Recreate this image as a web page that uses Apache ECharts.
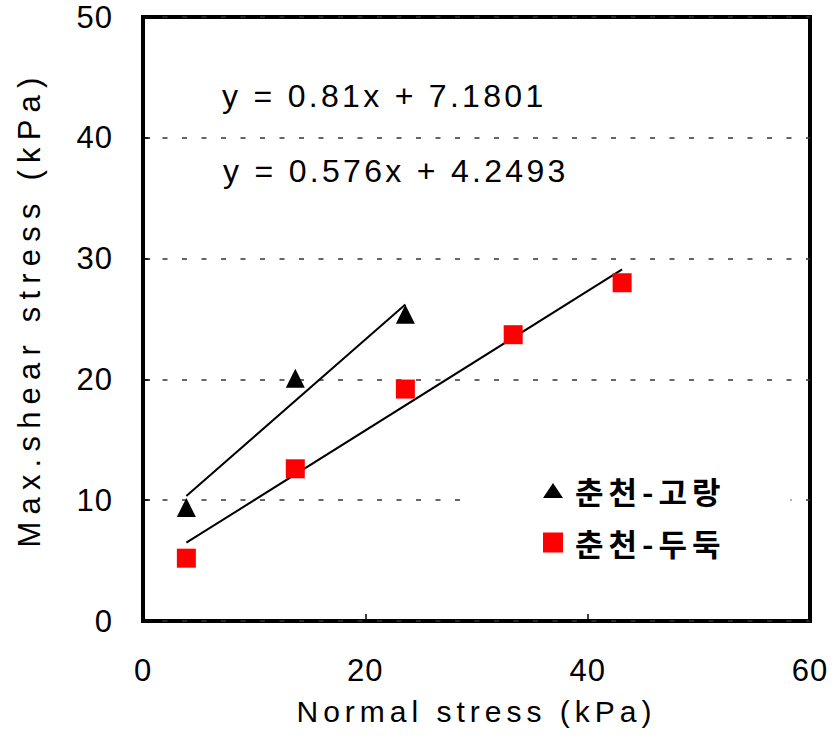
<!DOCTYPE html>
<html><head><meta charset="utf-8">
<script src="https://cdn.jsdelivr.net/npm/echarts@6/dist/echarts.min.js"></script>
<style>html,body{margin:0;padding:0;background:#fff}#chart{width:836px;height:742px}</style>
</head><body><div id="chart"></div>
<script>
// ---- data ----
const seriesNames = ['춘천-고랑', '춘천-두둑'];
const normalStressGorang = [3.9, 13.7, 23.6];
const shearGorang = [9.4, 20.1, 25.4];
const normalStressDuduk = [3.9, 13.7, 23.6, 33.3, 43.1];
const shearDuduk = [5.2, 12.6, 19.2, 23.7, 28.0];
const trendGorangX = [3.9, 23.6];
const trendGorangY = [10.35, 26.2];
const trendDudukX = [3.9, 43.1];
const trendDudukY = [6.48, 29.1];
const equations = ['y = 0.81x + 7.1801', 'y = 0.576x + 4.2493'];
const xTicks = [0, 20, 40, 60];
const yTicks = [0, 10, 20, 30, 40, 50];
const xAxisName = 'Normal stress (kPa)';
const yAxisName = 'Max.shear stress (kPa)';

const pairs = (xs, ys) => xs.map((x, i) => [x, ys[i]]);
const LATIN = 'Liberation Sans, Arial, sans-serif';

const chart = echarts.init(document.getElementById('chart'), null, {renderer: 'svg'});
chart.setOption({
  animation: false,
  backgroundColor: '#fff',
  grid: {left: 143, right: 26, top: 17, bottom: 121, show: true, borderColor: '#000', borderWidth: 4, backgroundColor: 'transparent'},
  xAxis: {
    type: 'value', min: xTicks[0], max: xTicks[xTicks.length - 1], interval: xTicks[1] - xTicks[0],
    name: xAxisName, nameLocation: 'middle', nameGap: 75,
    nameTextStyle: {fontFamily: LATIN, fontSize: 30, color: '#000'},
    axisLine: {show: false},
    axisTick: {show: true, inside: true, length: 7, lineStyle: {color: '#000', width: 1.5}},
    axisLabel: {fontFamily: LATIN, fontSize: 31, color: '#000', margin: 34},
    splitLine: {show: false}
  },
  yAxis: {
    type: 'value', min: yTicks[0], max: yTicks[yTicks.length - 1], interval: yTicks[1] - yTicks[0],
    name: yAxisName, nameLocation: 'middle', nameRotate: 90, nameGap: 98,
    nameTextStyle: {fontFamily: LATIN, fontSize: 31, color: '#000', padding: [0, 0, 0, 20]},
    axisLine: {show: false},
    axisTick: {show: true, inside: true, length: 7, lineStyle: {color: '#000', width: 1.5}},
    axisLabel: {fontFamily: LATIN, fontSize: 31, color: '#000', margin: 30},
    splitLine: {show: true, lineStyle: {color: '#333', width: 1.5, type: [5, 14.5]}}
  },
  legend: {
    orient: 'vertical', left: 466, top: 462, selectedMode: false,
    padding: [13, 90, 12, 77], backgroundColor: '#fff',
    itemWidth: 20, itemHeight: 20, itemGap: 21,
    textStyle: {fontFamily: 'Noto Sans CJK KR', fontSize: 31, fontWeight: 'bold', color: '#000', lineHeight: 30, padding: [0, 0, 0, 7]},
    data: [
      {name: seriesNames[0], icon: 'path://M0,0M20,20M10,2.5L20,17.5L0,17.5Z'},
      {name: seriesNames[1], icon: 'rect'}
    ]
  },
  graphic: [
    {type: 'text', x: 222, y: 96, z: 10, style: {text: equations[0], fontFamily: LATIN, fontSize: 32, fill: '#000', verticalAlign: 'middle', align: 'left'}},
    {type: 'text', x: 223, y: 171, z: 10, style: {text: equations[1], fontFamily: LATIN, fontSize: 32, fill: '#000', verticalAlign: 'middle', align: 'left'}}
  ],
  series: [
    {name: seriesNames[0], type: 'scatter', symbol: 'triangle', symbolSize: [19, 19], itemStyle: {color: '#000', opacity: 1}, data: pairs(normalStressGorang, shearGorang), z: 5},
    {name: seriesNames[1], type: 'scatter', symbol: 'rect', symbolSize: 19, itemStyle: {color: '#ff0000', opacity: 1}, data: pairs(normalStressDuduk, shearDuduk), z: 5},
    {name: 'trend1', type: 'line', data: pairs(trendGorangX, trendGorangY), symbol: 'none', lineStyle: {color: '#000', width: 2}, z: 4},
    {name: 'trend2', type: 'line', data: pairs(trendDudukX, trendDudukY), symbol: 'none', lineStyle: {color: '#000', width: 2}, z: 4}
  ]
});

const spacing = {};
spacing[xAxisName] = '5px';
spacing[yAxisName] = '7.2px';
spacing[equations[0]] = '3.3px';
spacing[equations[1]] = '3.3px';
spacing[seriesNames[0]] = '5px';
spacing[seriesNames[1]] = '5px';
function applySpacing() {
  document.querySelectorAll('#chart text').forEach(t => {
    const s = t.textContent;
    if (spacing[s]) t.style.letterSpacing = spacing[s];
    else if (/^\d+$/.test(s)) t.style.letterSpacing = '1px';
  });
}
applySpacing();
chart.on('finished', applySpacing);
setTimeout(applySpacing, 50);
</script></body></html>
